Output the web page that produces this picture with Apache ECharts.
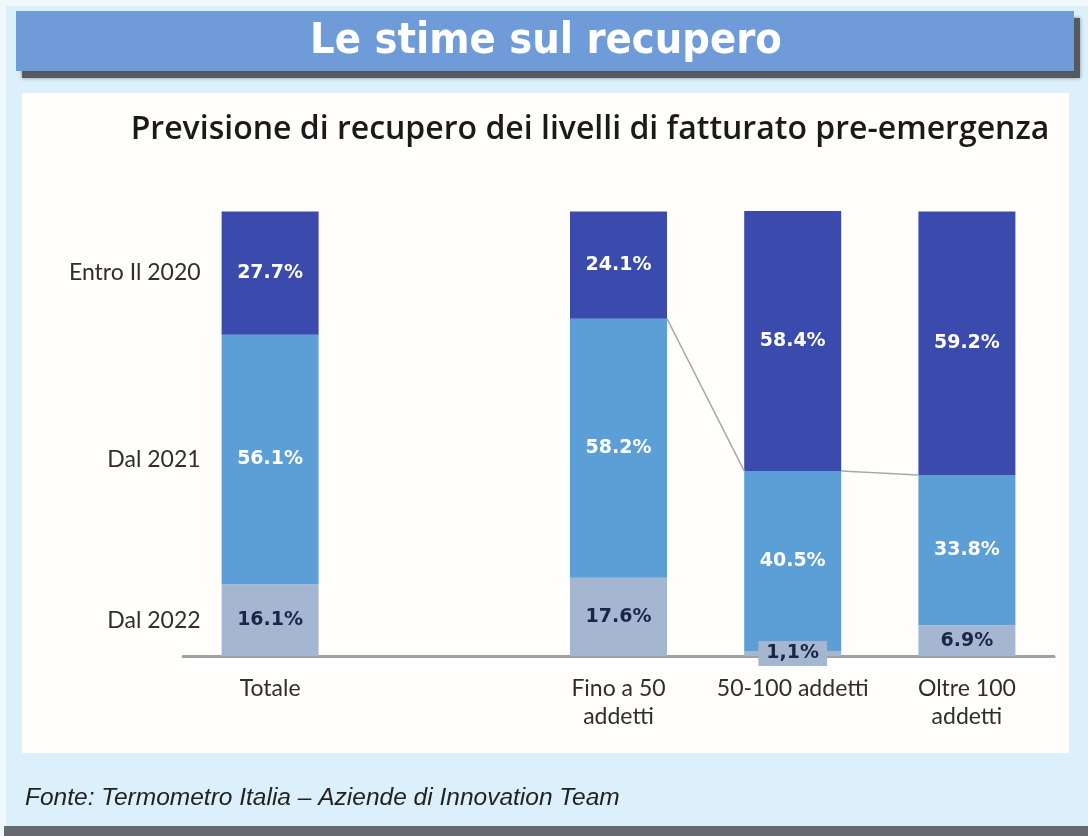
<!DOCTYPE html>
<html><head><meta charset="utf-8">
<script src="https://cdn.jsdelivr.net/npm/echarts@6/dist/echarts.min.js"></script>
<style>html,body{margin:0;padding:0;background:#fff}#c{width:1088px;height:836px}</style>
</head><body><div id="c"></div>
<script>
// ---- data ----
const categories = ['Totale', '', 'Fino a 50\naddetti', '50-100 addetti', 'Oltre 100\naddetti'];
const seriesNames = ['Dal 2022', 'Dal 2021', 'Entro Il 2020'];
const dal2022 = [16.1, null, 17.6, 1.1, 6.9];
const dal2021 = [56.1, null, 58.2, 40.5, 33.8];
const entro2020 = [27.7, null, 24.1, 58.4, 59.2];
const labels2022 = ['16.1%', '', '17.6%', '1,1%', '6.9%'];
const labels2021 = ['56.1%', '', '58.2%', '40.5%', '33.8%'];
const labels2020 = ['27.7%', '', '24.1%', '58.4%', '59.2%'];
const titleText = 'Le stime sul recupero';
const subtitleText = 'Previsione di recupero dei livelli di fatturato pre-emergenza';
const sourceText = 'Fonte: Termometro Italia \u2013 Aziende di Innovation Team';

const C_DARK = '#3b4bad', C_LIGHT = '#5b9fd6', C_GREY = '#a4b6d0';
const BAR_W = 97;

// series-line points (top of the "Dal 2021" segment) for the right group
const connIdx = [2, 3, 4];
const connData = [];
for (let k = 0; k < connIdx.length - 1; k++) {
  const a = connIdx[k], b = connIdx[k + 1];
  connData.push([a, dal2022[a] + dal2021[a], b, dal2022[b] + dal2021[b]]);
}
// left-side series names next to the Totale bar
const sideData = [
  [0, dal2022[0] + dal2021[0] + entro2020[0] / 2, seriesNames[2]],
  [0, dal2022[0] + dal2021[0] / 2, seriesNames[1]],
  [0, dal2022[0] / 2, seriesNames[0]]
];

const chart = echarts.init(document.getElementById('c'), null, { renderer: 'canvas' });
const valFont = { fontFamily: 'DejaVu Sans', fontWeight: 'bold', fontSize: 19 };

function barSeries(name, vals, labs, color, labColor, extraLabel) {
  return {
    type: 'bar', name: name, stack: 's', barWidth: BAR_W,
    itemStyle: { color: color },
    data: vals.map((v, i) => ({
      value: v,
      label: Object.assign({ show: !!labs[i], position: 'inside', formatter: labs[i], color: labColor }, valFont,
        extraLabel && extraLabel[i] ? extraLabel[i] : {})
    })),
    z: 2
  };
}

const extra22 = [null, null, null, { backgroundColor: C_GREY, padding: [3, 8, 3, 8] }, null];

chart.setOption({
  animation: false,
  graphic: [
    { type: 'rect', shape: { x: 0, y: 0, width: 1088, height: 836 }, style: { fill: '#eef8fd' }, z: -10 },
    { type: 'rect', shape: { x: 4, y: 826, width: 1084, height: 10 }, style: { fill: '#666a6e' }, z: -9 },
    { type: 'rect', shape: { x: 6, y: 6, width: 1082, height: 820 }, style: { fill: '#dcf0fb' }, z: -8 },
    { type: 'rect', shape: { x: 22, y: 18, width: 1058, height: 60 }, style: { fill: '#545a60', shadowColor: 'rgba(0,0,0,0.4)', shadowBlur: 4 }, z: -7 },
    { type: 'rect', shape: { x: 16, y: 11, width: 1058, height: 60 }, style: { fill: '#6f9cd8' }, z: -6 },
    { type: 'rect', shape: { x: 22, y: 93, width: 1047, height: 660 }, style: { fill: '#fffefd' }, z: -5 },
    { type: 'text', x: 546, y: 42, style: { text: titleText, fill: '#ffffff', font: 'bold 43px "DejaVu Sans Condensed", "DejaVu Sans"', textAlign: 'center', textVerticalAlign: 'middle', shadowColor: 'rgba(0,0,0,0.45)', shadowBlur: 3, shadowOffsetX: 1, shadowOffsetY: 1 }, z: 10 },
    { type: 'text', x: 590, y: 130, style: { text: subtitleText, fill: '#1a1a1a', font: '600 32px "Open Sans"', textAlign: 'center', textVerticalAlign: 'middle' }, z: 10 },
    { type: 'text', x: 25, y: 798, style: { text: sourceText, fill: '#222', font: 'italic 24.5px "Liberation Sans"', textAlign: 'left', textVerticalAlign: 'middle' }, z: 10 }
  ],
  grid: { left: 183, right: 34, top: 211, bottom: 180, containLabel: false },
  xAxis: {
    type: 'category', data: categories,
    axisLine: { lineStyle: { color: '#a0a0a0', width: 3 } },
    axisTick: { show: false },
    axisLabel: { color: '#2e2e2e', fontFamily: 'Lato', fontSize: 23, lineHeight: 28, margin: 19, interval: 0 }
  },
  yAxis: { type: 'value', min: 0, max: 100, show: false },
  series: [
    barSeries(seriesNames[0], dal2022, labels2022, C_GREY, '#1b2548', extra22),
    barSeries(seriesNames[1], dal2021, labels2021, C_LIGHT, '#ffffff'),
    barSeries(seriesNames[2], entro2020, labels2020, C_DARK, '#ffffff'),
    {
      type: 'custom', data: connData, z: 3, silent: true,
      renderItem: function (params, api) {
        const p1 = api.coord([api.value(0), api.value(1)]);
        const p2 = api.coord([api.value(2), api.value(3)]);
        return { type: 'line', shape: { x1: p1[0] + BAR_W / 2, y1: p1[1], x2: p2[0] - BAR_W / 2, y2: p2[1] },
          style: { stroke: '#a9a9a9', lineWidth: 1.5 } };
      }
    },
    {
      type: 'custom', data: sideData, z: 3, silent: true,
      renderItem: function (params, api) {
        const p = api.coord([api.value(0), api.value(1)]);
        return { type: 'text', x: p[0] - BAR_W / 2 - 21, y: p[1],
          style: { text: sideData[params.dataIndex][2], fill: '#2e2e2e', font: '23px Lato', textAlign: 'right', textVerticalAlign: 'middle' } };
      }
    }
  ]
});
</script></body></html>
